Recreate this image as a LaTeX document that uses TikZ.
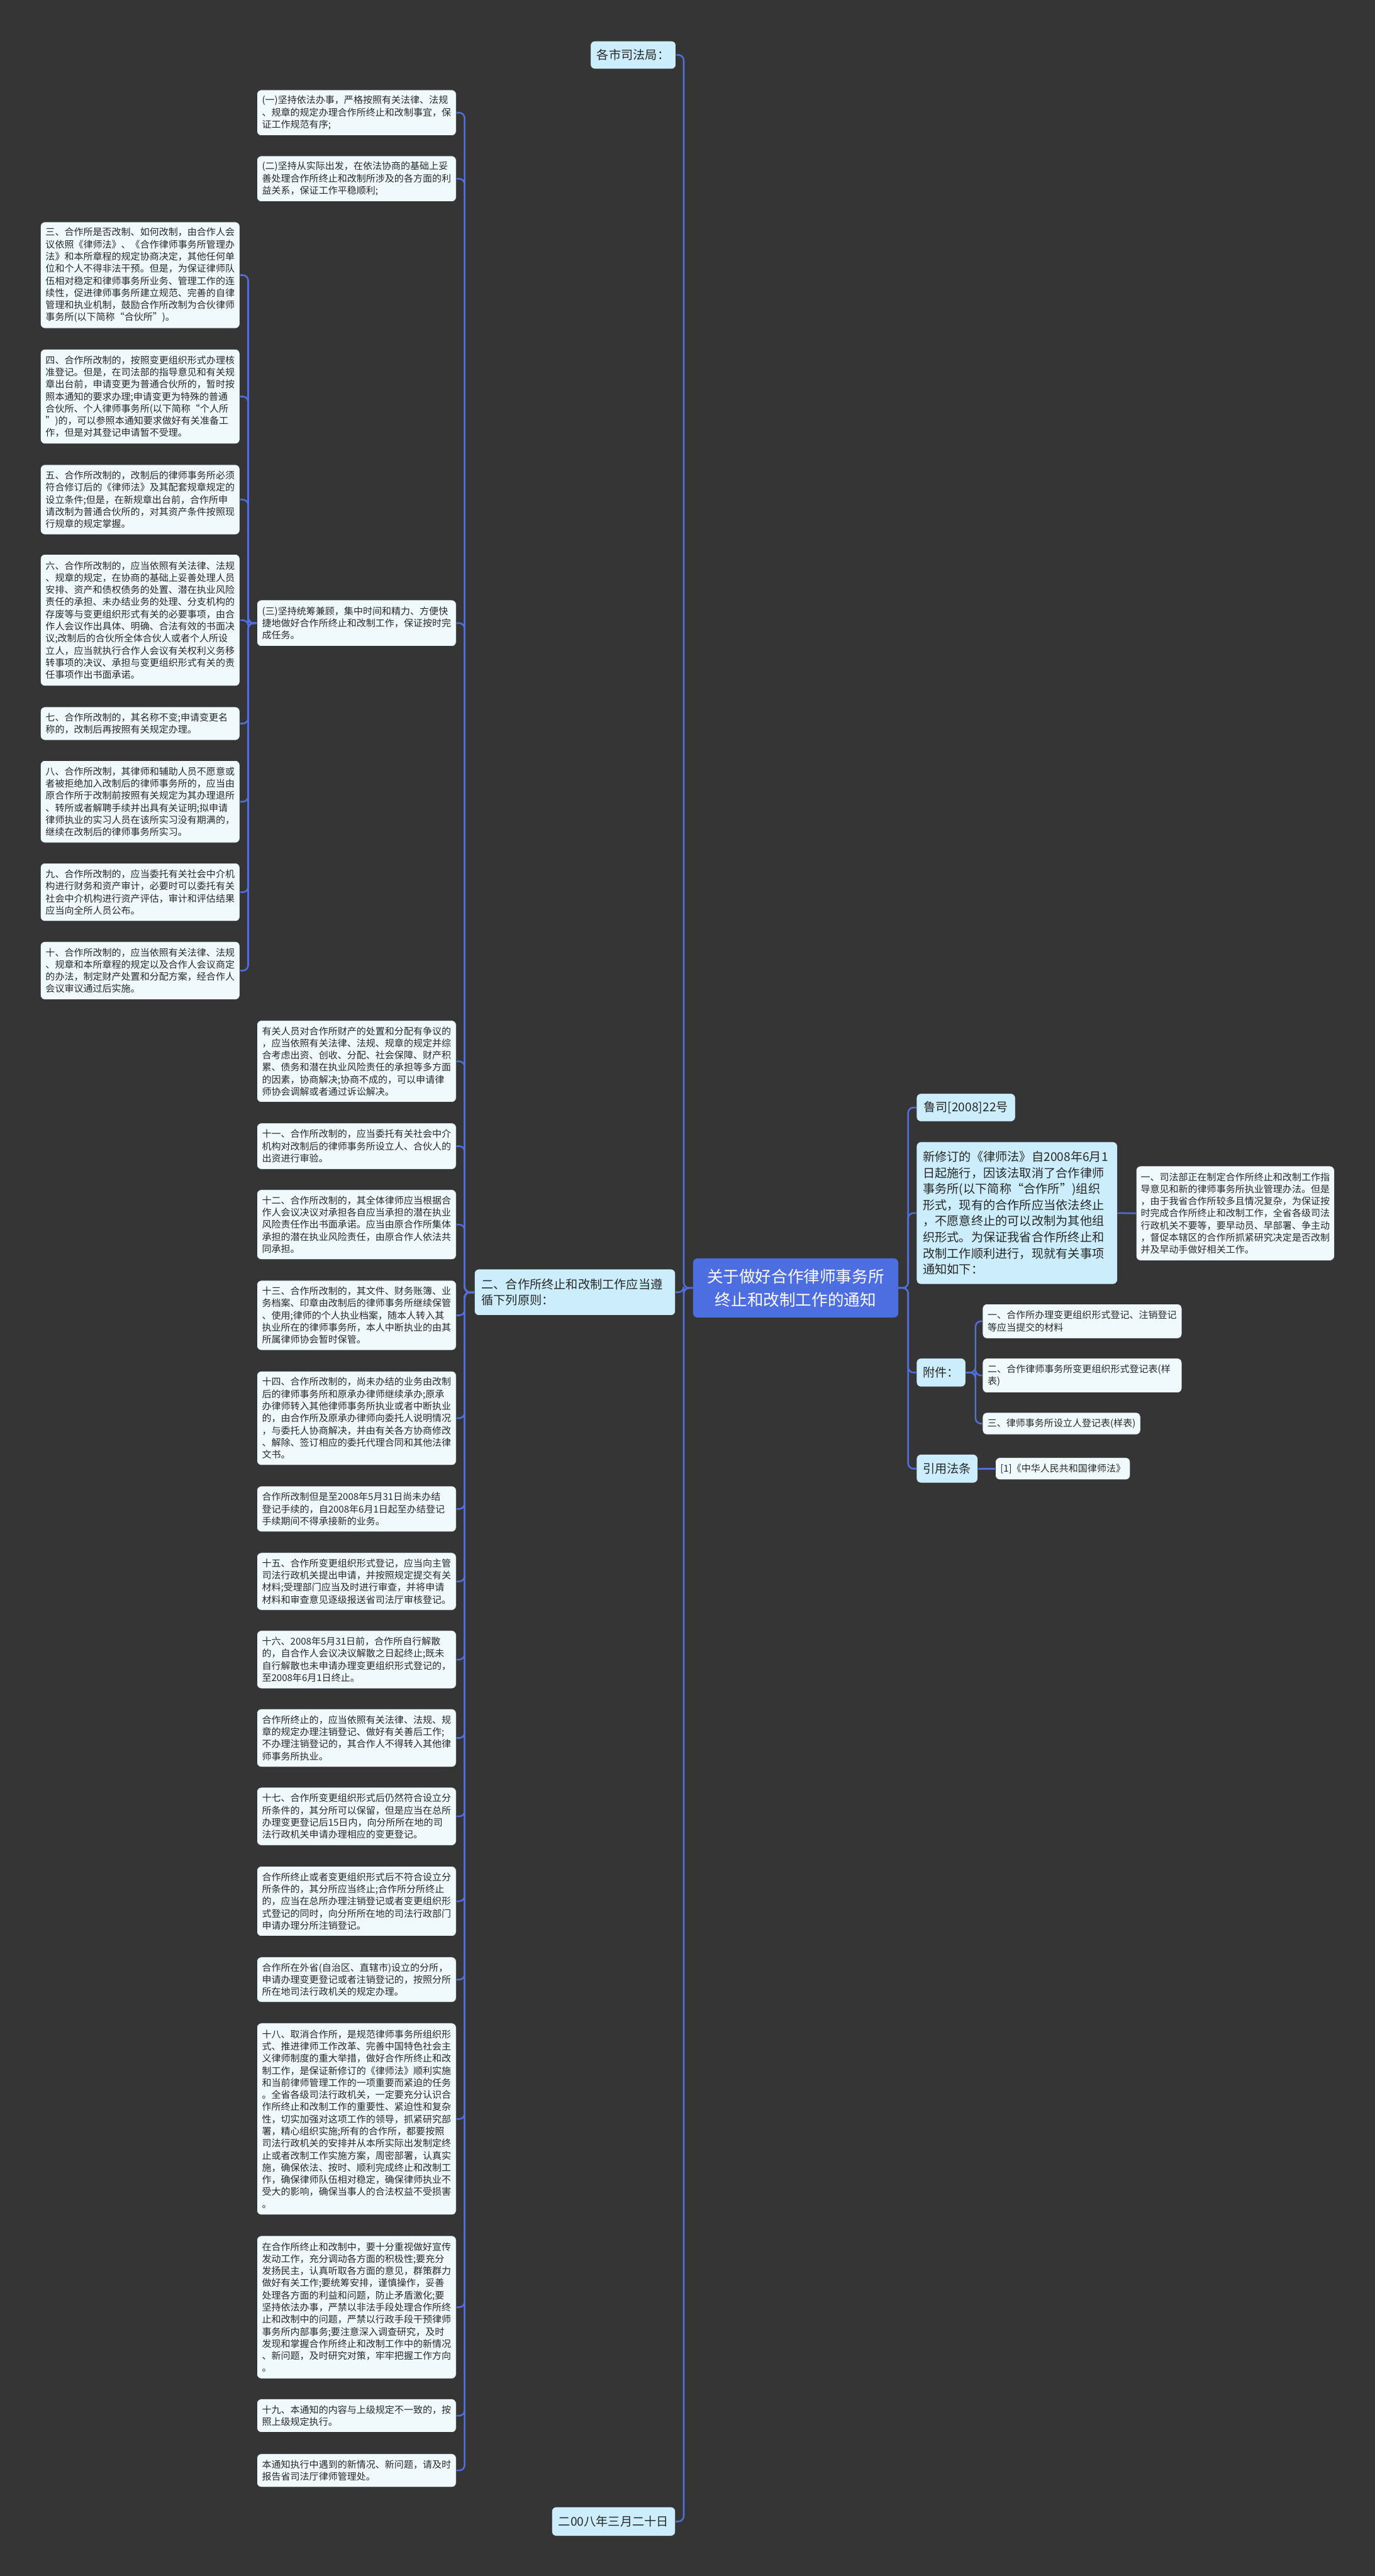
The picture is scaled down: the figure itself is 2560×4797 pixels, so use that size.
\documentclass[tikz,border=0pt]{standalone}
\usepackage{fontspec}
\setmainfont{Noto Sans CJK SC}
\definecolor{bgc}{RGB}{53,53,53}
\definecolor{connc}{RGB}{80,110,220}
\definecolor{rootc}{RGB}{76,110,224}
\definecolor{lvc}{RGB}{204,238,252}
\definecolor{leafc}{RGB}{240,250,253}
\definecolor{txtc}{RGB}{40,40,40}
\begin{document}
\begin{tikzpicture}[x=1pt,y=-1pt,
  basebox/.style={rounded corners=8pt, draw=black!80, line width=0.8pt, anchor=north west, inner ysep=3pt},
  leafbox/.style={basebox, fill=leafc, text=txtc, align=left, font=\fontsize{17.6}{22.6}\selectfont, text width=352pt, inner xsep=9.5pt},
  leafone/.style={basebox, fill=leafc, text=txtc, align=center, font=\fontsize{17.6}{22.6}\selectfont, inner xsep=9pt},
  lvlbox/.style={basebox, fill=lvc, text=txtc, align=left, font=\fontsize{22.5}{30}\selectfont, inner xsep=12pt},
  rootbox/.style={basebox, draw=none, fill=rootc, text=white, align=center, font=\fontsize{30}{43}\selectfont, text width=352pt, inner xsep=15pt},
  conn/.style={draw=connc, line width=3pt, rounded corners=10pt}]
\fill[bgc] (0,0) rectangle (2560,4797);
\useasboundingbox (0,0) rectangle (2560,4797);

% root
\node[rootbox, minimum height=110] (root) at (1290,2343) {关于做好合作律师事务所\\终止和改制工作的通知};

% left level-1
\node[lvlbox, align=center, minimum width=157, minimum height=52] (L1) at (1099,76) {各市司法局：};
\node[lvlbox, text width=348pt, inner xsep=13pt, minimum height=86] (L2) at (883,2363) {二、合作所终止和改制工作应当遵\\循下列原则：};
\node[lvlbox, align=center, minimum width=230, minimum height=54] (L3) at (1027,4668) {二00八年三月二十日};

% right level-1
\node[lvlbox, align=center, minimum width=184, minimum height=52] (R1) at (1706,2036) {鲁司[2008]22号};
\node[lvlbox, text width=350pt, minimum height=265] (R2) at (1706,2126) {新修订的《律师法》自2008年6月1\\日起施行，因该法取消了合作律师\\事务所(以下简称“合作所”)组织\\形式，现有的合作所应当依法终止\\，不愿意终止的可以改制为其他组\\织形式。为保证我省合作所终止和\\改制工作顺利进行，现就有关事项\\通知如下：};
\node[lvlbox, align=center, minimum width=89, minimum height=53] (R3) at (1706,2529) {附件：};
\node[lvlbox, align=center, minimum width=113, minimum height=53] (R4) at (1706,2708) {引用法条};

% right leaves
\node[leafbox, inner xsep=8.5pt, minimum height=176] (R2a) at (2115,2171) {一、司法部正在制定合作所终止和改制工作指\\导意见和新的律师事务所执业管理办法。但是\\，由于我省合作所较多且情况复杂，为保证按\\时完成合作所终止和改制工作，全省各级司法\\行政机关不要等，要早动员、早部署、争主动\\，督促本辖区的合作所抓紧研究决定是否改制\\并及早动手做好相关工作。};
\node[leafbox, minimum height=64] (R3a) at (1829,2428) {一、合作所办理变更组织形式登记、注销登记\\等应当提交的材料};
\node[leafbox, minimum height=64] (R3b) at (1829,2529) {二、合作律师事务所变更组织形式登记表(样\\表)};
\node[leafone, minimum width=294, minimum height=41] (R3c) at (1829,2630) {三、律师事务所设立人登记表(样表)};
\node[leafone, minimum width=250, minimum height=41] (R4a) at (1853,2714) {[1]《中华人民共和国律师法》};

% second column
\node[leafbox, minimum height=85] (p1) at (478,167) {(一)坚持依法办事，严格按照有关法律、法规\\、规章的规定办理合作所终止和改制事宜，保\\证工作规范有序;};
\node[leafbox, minimum height=85] (p2) at (478,290) {(二)坚持从实际出发，在依法协商的基础上妥\\善处理合作所终止和改制所涉及的各方面的利\\益关系，保证工作平稳顺利;};
\node[leafbox, minimum height=86] (p3) at (478,1117) {(三)坚持统筹兼顾，集中时间和精力、方便快\\捷地做好合作所终止和改制工作，保证按时完\\成任务。};
\node[leafbox, minimum height=152] (q0) at (478,1900) {有关人员对合作所财产的处置和分配有争议的\\，应当依照有关法律、法规、规章的规定并综\\合考虑出资、创收、分配、社会保障、财产积\\累、债务和潜在执业风险责任的承担等多方面\\的因素，协商解决;协商不成的，可以申请律\\师协会调解或者通过诉讼解决。};
\node[leafbox, minimum height=86] (q11) at (478,2091) {十一、合作所改制的，应当委托有关社会中介\\机构对改制后的律师事务所设立人、合伙人的\\出资进行审验。};
\node[leafbox, minimum height=130] (q12) at (478,2215) {十二、合作所改制的，其全体律师应当根据合\\作人会议决议对承担各自应当承担的潜在执业\\风险责任作出书面承诺。应当由原合作所集体\\承担的潜在执业风险责任，由原合作人依法共\\同承担。};
\node[leafbox, minimum height=130] (q13) at (478,2384) {十三、合作所改制的，其文件、财务账簿、业\\务档案、印章由改制后的律师事务所继续保管\\、使用;律师的个人执业档案，随本人转入其\\执业所在的律师事务所，本人中断执业的由其\\所属律师协会暂时保管。};
\node[leafbox, minimum height=175] (q14) at (478,2553) {十四、合作所改制的，尚未办结的业务由改制\\后的律师事务所和原承办律师继续承办;原承\\办律师转入其他律师事务所执业或者中断执业\\的，由合作所及原承办律师向委托人说明情况\\，与委托人协商解决，并由有关各方协商修改\\、解除、签订相应的委托代理合同和其他法律\\文书。};
\node[leafbox, minimum height=85] (qa) at (478,2767) {合作所改制但是至2008年5月31日尚未办结\\登记手续的，自2008年6月1日起至办结登记\\手续期间不得承接新的业务。};
\node[leafbox, minimum height=107] (q15) at (478,2891) {十五、合作所变更组织形式登记，应当向主管\\司法行政机关提出申请，并按照规定提交有关\\材料;受理部门应当及时进行审查，并将申请\\材料和审查意见逐级报送省司法厅审核登记。};
\node[leafbox, minimum height=108] (q16) at (478,3036) {十六、2008年5月31日前，合作所自行解散\\的，自合作人会议决议解散之日起终止;既未\\自行解散也未申请办理变更组织形式登记的，\\至2008年6月1日终止。};
\node[leafbox, minimum height=108] (qb) at (478,3182) {合作所终止的，应当依照有关法律、法规、规\\章的规定办理注销登记、做好有关善后工作;\\不办理注销登记的，其合作人不得转入其他律\\师事务所执业。};
\node[leafbox, minimum height=108] (q17) at (478,3328) {十七、合作所变更组织形式后仍然符合设立分\\所条件的，其分所可以保留，但是应当在总所\\办理变更登记后15日内，向分所所在地的司\\法行政机关申请办理相应的变更登记。};
\node[leafbox, minimum height=130] (qc) at (478,3475) {合作所终止或者变更组织形式后不符合设立分\\所条件的，其分所应当终止;合作所分所终止\\的，应当在总所办理注销登记或者变更组织形\\式登记的同时，向分所所在地的司法行政部门\\申请办理分所注销登记。};
\node[leafbox, minimum height=84] (qd) at (478,3644) {合作所在外省(自治区、直辖市)设立的分所，\\申请办理变更登记或者注销登记的，按照分所\\所在地司法行政机关的规定办理。};
\node[leafbox, minimum height=357] (q18) at (478,3767) {十八、取消合作所，是规范律师事务所组织形\\式、推进律师工作改革、完善中国特色社会主\\义律师制度的重大举措，做好合作所终止和改\\制工作，是保证新修订的《律师法》顺利实施\\和当前律师管理工作的一项重要而紧迫的任务\\。全省各级司法行政机关，一定要充分认识合\\作所终止和改制工作的重要性、紧迫性和复杂\\性，切实加强对这项工作的领导，抓紧研究部\\署，精心组织实施;所有的合作所，都要按照\\司法行政机关的安排并从本所实际出发制定终\\止或者改制工作实施方案，周密部署，认真实\\施，确保依法、按时、顺利完成终止和改制工\\作，确保律师队伍相对稳定，确保律师执业不\\受大的影响，确保当事人的合法权益不受损害\\。};
\node[leafbox, minimum height=266] (qe) at (478,4163) {在合作所终止和改制中，要十分重视做好宣传\\发动工作，充分调动各方面的积极性;要充分\\发扬民主，认真听取各方面的意见，群策群力\\做好有关工作;要统筹安排，谨慎操作，妥善\\处理各方面的利益和问题，防止矛盾激化;要\\坚持依法办事，严禁以非法手段处理合作所终\\止和改制中的问题，严禁以行政手段干预律师\\事务所内部事务;要注意深入调查研究，及时\\发现和掌握合作所终止和改制工作中的新情况\\、新问题，及时研究对策，牢牢把握工作方向\\。};
\node[leafbox, minimum height=62] (q19) at (478,4467) {十九、本通知的内容与上级规定不一致的，按\\照上级规定执行。};
\node[leafbox, minimum height=62] (qf) at (478,4569) {本通知执行中遇到的新情况、新问题，请及时\\报告省司法厅律师管理处。};

% left column
\node[leafbox, minimum height=198] (c3) at (75,413) {三、合作所是否改制、如何改制，由合作人会\\议依照《律师法》、《合作律师事务所管理办\\法》和本所章程的规定协商决定，其他任何单\\位和个人不得非法干预。但是，为保证律师队\\伍相对稳定和律师事务所业务、管理工作的连\\续性，促进律师事务所建立规范、完善的自律\\管理和执业机制，鼓励合作所改制为合伙律师\\事务所(以下简称“合伙所”)。};
\node[leafbox, minimum height=176] (c4) at (75,650) {四、合作所改制的，按照变更组织形式办理核\\准登记。但是，在司法部的指导意见和有关规\\章出台前，申请变更为普通合伙所的，暂时按\\照本通知的要求办理;申请变更为特殊的普通\\合伙所、个人律师事务所(以下简称“个人所\\”)的，可以参照本通知要求做好有关准备工\\作，但是对其登记申请暂不受理。};
\node[leafbox, minimum height=130] (c5) at (75,865) {五、合作所改制的，改制后的律师事务所必须\\符合修订后的《律师法》及其配套规章规定的\\设立条件;但是，在新规章出台前，合作所申\\请改制为普通合伙所的，对其资产条件按照现\\行规章的规定掌握。};
\node[leafbox, minimum height=245] (c6) at (75,1032) {六、合作所改制的，应当依照有关法律、法规\\、规章的规定，在协商的基础上妥善处理人员\\安排、资产和债权债务的处置、潜在执业风险\\责任的承担、未办结业务的处理、分支机构的\\存废等与变更组织形式有关的必要事项，由合\\作人会议作出具体、明确、合法有效的书面决\\议;改制后的合伙所全体合伙人或者个人所设\\立人，应当就执行合作人会议有关权利义务移\\转事项的决议、承担与变更组织形式有关的责\\任事项作出书面承诺。};
\node[leafbox, minimum height=62] (c7) at (75,1316) {七、合作所改制的，其名称不变;申请变更名\\称的，改制后再按照有关规定办理。};
\node[leafbox, minimum height=153] (c8) at (75,1416) {八、合作所改制，其律师和辅助人员不愿意或\\者被拒绝加入改制后的律师事务所的，应当由\\原合作所于改制前按照有关规定为其办理退所\\、转所或者解聘手续并出具有关证明;拟申请\\律师执业的实习人员在该所实习没有期满的，\\继续在改制后的律师事务所实习。};
\node[leafbox, minimum height=108] (c9) at (75,1607) {九、合作所改制的，应当委托有关社会中介机\\构进行财务和资产审计，必要时可以委托有关\\社会中介机构进行资产评估，审计和评估结果\\应当向全所人员公布。};
\node[leafbox, minimum height=108] (c10) at (75,1753) {十、合作所改制的，应当依照有关法律、法规\\、规章和本所章程的规定以及合作人会议商定\\的办法，制定财产处置和分配方案，经合作人\\会议审议通过后实施。};

% connectors: root left
\foreach \n in {L1,L2,L3} \draw[conn] (root.west) -- ++(-17,0) |- (\n.east);
% root right
\foreach \n in {R1,R2,R3,R4} \draw[conn] (root.east) -- ++(18,0) |- (\n.west);
\draw[conn] (R2.east) -- (R2a.west);
\foreach \n in {R3a,R3b,R3c} \draw[conn] (R3.east) -- ++(18,0) |- (\n.west);
\draw[conn] (R4.east) -- (R4a.west);
% L2 children
\foreach \n in {p1,p2,p3,q0,q11,q12,q13,q14,qa,q15,q16,qb,q17,qc,qd,q18,qe,q19,qf} \draw[conn] (L2.west) -- ++(-18,0) |- (\n.east);
% p3 children
\foreach \n in {c3,c4,c5,c6,c7,c8,c9,c10} \draw[conn] (p3.west) -- ++(-16,0) |- (\n.east);
\end{tikzpicture}
\end{document}
